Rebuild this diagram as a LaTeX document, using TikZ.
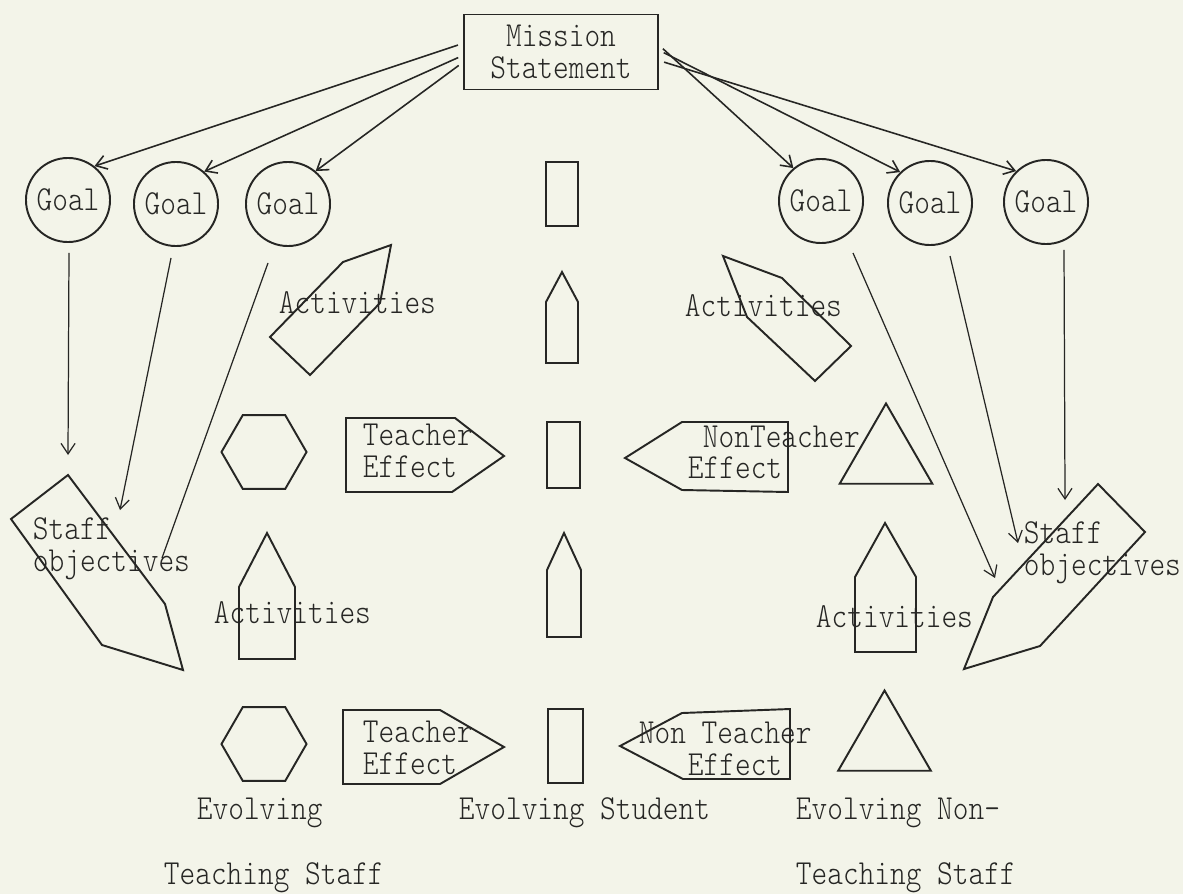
\documentclass[tikz,border=0pt]{standalone}
\usepackage{fontspec}
\newfontfamily\typew{lmmonolt10-regular.otf}[FakeStretch=0.85]
\newcommand\twfont{\typew\fontsize{10pt}{9.1pt}\selectfont}
\usepackage{xcolor}
\usepackage{tikz}
\usetikzlibrary{arrows.meta,positioning,shapes.geometric,calc}
\definecolor{paper}{RGB}{243,244,233}
\definecolor{ink}{RGB}{38,38,36}

\begin{document}
\begin{tikzpicture}[
				x=0.01cm, y=-0.01cm, color=ink, line width=0.55pt,
				mbox/.style={rectangle, draw, minimum width=1.94cm, minimum height=0.75cm,
					inner sep=0pt, align=center, font=\twfont},
				goal/.style={circle, draw, minimum size=0.84cm, inner sep=0pt, font=\twfont},
				txt/.style={inner sep=0pt, anchor=west, align=left, font=\twfont},
				hexa/.style={regular polygon, regular polygon sides=6, draw,
					minimum size=0.85cm, inner sep=0pt},
				tri/.style={regular polygon, regular polygon sides=3, draw,
					minimum size=1.07cm, inner sep=0pt},
				arrow/.style={-{Straight Barb[length=3pt,width=4pt]}, line width=0.45pt},
				feed/.style={line width=0.35pt}
				]
				\fill[paper] (0,0) rectangle (1183,894);
				
				\node[mbox] (mission) at (561,52) {Mission\\Statement};
				\node[goal] (g1) at (68,200) {Goal};
				\node[goal] (g2) at (176,204) {Goal};
				\node[goal] (g3) at (288,204) {Goal};
				\node[goal] (g4) at (821,201) {Goal};
				\node[goal] (g5) at (930,203) {Goal};
				\node[goal] (g6) at (1046,202) {Goal};
				\foreach \s/\g/\t in {175/g1/52, 182/g2/49, 186/g3/50, 4/g4/130, 1/g5/134, -5/g6/134}
					\draw[arrow, shorten <=1.5pt] (mission.\s) -- (\g.\t);
				
				% staff objectives, both sides
				\draw (68,475) -- (11,519) -- (102,645) -- (183,670) -- (165,604) -- cycle;
				\draw (1098,484) -- (1145,532) -- (1040,646) -- (964,669) -- (993,597) -- cycle;
				\node[txt] (lobj) at (32,549) {Staff\\objectives};
				\node[txt] (robj) at (1023,553) {Staff\\objectives};
				\coordinate (lo1) at (68,455);
				\coordinate (lo2) at (120,510);
				\coordinate (lo3) at (162,558);
				\coordinate (ro1) at (995,578);
				\coordinate (ro2) at (1018,543);
				\coordinate (ro3) at (1065,500);
				\draw[arrow, feed] ($(g1.south)+(1,10)$) -- (lo1);
				\draw[arrow, feed] ($(g2.south)+(-5,11)$) -- (lo2);
				\draw[feed] ($(g3.south)+(-20,16)$) -- (lo3);
				\draw[arrow, feed] ($(g4.south)+(32,9)$) -- (ro1);
				\draw[arrow, feed] ($(g5.south)+(20,10)$) -- (ro2);
				\draw[arrow, feed] ($(g6.south)+(18,5)$) -- (ro3);
				
				% activities
				\draw (391,245) -- (343,262) -- (270,337) -- (310,375) -- (380,303) -- cycle;
				\draw (723,256) -- (782,278) -- (851,346) -- (815,381) -- (747,317) -- cycle;
				\draw (239,659) -- (239,587) -- (267,533) -- (295,587) -- (295,659) -- cycle;
				\draw (855,652) -- (855,577) -- (885,523) -- (916,577) -- (916,652) -- cycle;
				\node[txt] (act1) at (278,303) {Activities};
				\node[txt] (act2) at (684,306) {Activities};
				\node[txt] (act3) at (213,613) {Activities};
				\node[txt] (act4) at (815,617) {Activities};
				
				% student column
				\draw (546,162) rectangle (578,226);
				\draw (546,363) -- (546,302) -- (562,272) -- (578,302) -- (578,363) -- cycle;
				\draw (547,422) rectangle (580,488);
				\draw (547,637) -- (547,570) -- (564,533) -- (581,570) -- (581,637) -- cycle;
				\draw (548,709) rectangle (583,783);
				
				% teaching and non-teaching staff
				\node[hexa] (hex1) at (264,452) {};
				\node[hexa] (hex2) at (264,744) {};
				\node[tri] (tri1) at (886,457) {};
				\node[tri] (tri2) at (884.5,744) {};
				
				% effects
				\draw (346,418) -- (455,418) -- (504,456) -- (452,492) -- (346,492) -- cycle;
				\draw (343,710) -- (440,710) -- (504,747) -- (440,784) -- (343,784) -- cycle;
				\draw (625,458) -- (682,422) -- (788,422) -- (788,492) -- (682,490) -- cycle;
				\draw (620,746) -- (682,713) -- (790,709) -- (790,779) -- (683,779) -- cycle;
				\node[txt] (te1) at (362,451) {Teacher\\Effect};
				\node[txt] (te2) at (362,748) {Teacher\\Effect};
				\node[txt] (nte1) at (702,437) {NonTeacher};
				\node[txt] (nte1b) at (687,468) {Effect};
				\node[txt] (nte2) at (638,733) {Non Teacher};
				\node[txt] (nte2b) at (687,765) {Effect};
				
				\node[txt] (evt1) at (196,813) {Evolving};
				\node[txt] (evt2) at (163,878) {Teaching Staff};
				\node[txt] (evs) at (458,813) {Evolving Student};
				\node[txt] (evn1) at (795,813) {Evolving Non-};
				\node[txt] (evn2) at (795,878) {Teaching Staff};
			\end{tikzpicture}
\end{document}
